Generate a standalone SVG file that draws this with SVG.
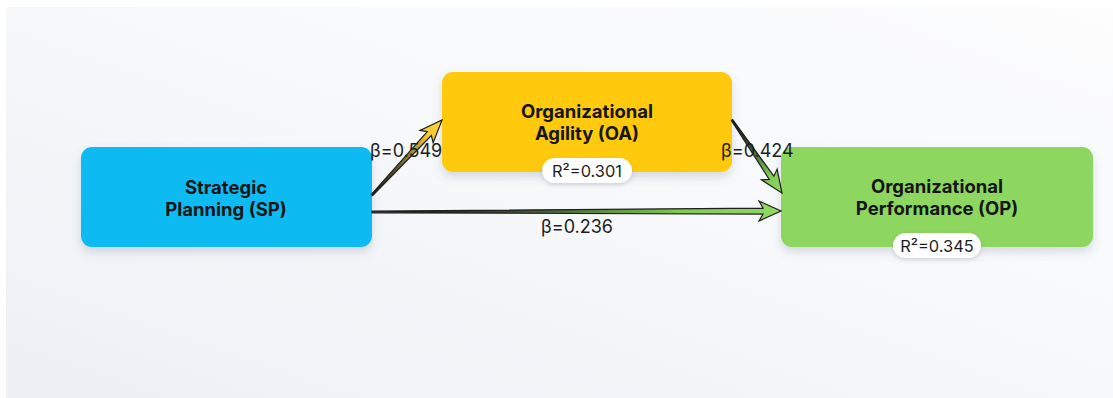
<svg xmlns="http://www.w3.org/2000/svg" width="1113" height="398" viewBox="0 0 1113 398">
  <defs>
    <linearGradient id="bg" x1="0" y1="1" x2="1" y2="0">
      <stop offset="0" stop-color="#ECF0F5"/>
      <stop offset="0.5" stop-color="#F6F8FA"/>
      <stop offset="1" stop-color="#FDFDFE"/>
    </linearGradient>
    <linearGradient id="gGreen" x1="0" y1="0" x2="1" y2="0">
      <stop offset="0" stop-color="#111111"/>
      <stop offset="0.35" stop-color="#3a4a33"/>
      <stop offset="0.75" stop-color="#7FC955"/>
      <stop offset="1" stop-color="#8FD962"/>
    </linearGradient>
    <linearGradient id="gYellow" x1="0" y1="0" x2="1" y2="0">
      <stop offset="0" stop-color="#111111"/>
      <stop offset="0.45" stop-color="#7a6a2a"/>
      <stop offset="0.8" stop-color="#F5C935"/>
      <stop offset="1" stop-color="#FFD23F"/>
    </linearGradient>
    <filter id="shadow" x="-10%" y="-20%" width="120%" height="150%">
      <feDropShadow dx="0" dy="5" stdDeviation="5" flood-color="#5a6a80" flood-opacity="0.22"/>
    </filter>
    <filter id="pshadow" x="-20%" y="-40%" width="140%" height="190%">
      <feDropShadow dx="0" dy="2" stdDeviation="2" flood-color="#5a6a80" flood-opacity="0.25"/>
    </filter>
    <style>
      .title { font-family: Inter, "Noto Sans", sans-serif; font-weight: 700; font-size: 18.5px; fill: #151515; text-anchor: middle; }
      .lbl { font-family: Inter, "Noto Sans", sans-serif; font-weight: 400; font-size: 18px; fill: #1e1e1e; }
      .r2 { font-family: Inter, "Noto Sans", sans-serif; font-weight: 400; font-size: 16.4px; fill: #1e1e1e; text-anchor: middle; }
      .pill { fill: #FFFFFF; filter: url(#pshadow); }
      .arrow { stroke: #1f1f1f; stroke-width: 1.2; stroke-linejoin: miter; }
    </style>
  </defs>

  <rect x="0" y="0" width="1113" height="398" fill="#FFFFFF"/>
  <rect x="6" y="7" width="1107" height="391" fill="url(#bg)"/>

  <g id="node-sp">
    <rect x="81" y="147" width="291" height="100" rx="11" fill="#0DBBF2" filter="url(#shadow)"/>
    <text class="title" x="226" y="194">Strategic</text>
    <text class="title" x="226" y="216">Planning (SP)</text>
  </g>

  <g id="node-oa">
    <rect x="442" y="72" width="290" height="100" rx="11" fill="#FFC907" filter="url(#shadow)"/>
    <text class="title" x="587" y="118">Organizational</text>
    <text class="title" x="587" y="140">Agility (OA)</text>
    <rect class="pill" x="542" y="158" width="90" height="25" rx="12.5"/>
    <text class="r2" x="587" y="176.5">R²=0.301</text>
  </g>

  <g id="node-op">
    <rect x="781" y="147" width="312" height="100" rx="11" fill="#8DD65E" filter="url(#shadow)"/>
    <text class="title" x="937" y="193">Organizational</text>
    <text class="title" x="937" y="215">Performance (OP)</text>
    <rect class="pill" x="893" y="233" width="88" height="25" rx="12.5"/>
    <text class="r2" x="937" y="251.5">R²=0.345</text>
  </g>

  <g id="connectors">
    <g id="sp-oa" transform="translate(372,195) rotate(-46.97)">
      <polygon class="arrow" fill="url(#gYellow)" points="0,-0.8 84,-2.8 80,-9 102.6,0 80,9 84,2.8 0,0.8"/>
    </g>
    <g id="oa-op" transform="translate(732,120) rotate(55.6)">
      <polygon class="arrow" fill="url(#gGreen)" points="0,-0.8 70,-2.8 66,-9.5 88.5,0 66,9.5 70,2.8 0,0.8"/>
    </g>
    <g id="sp-op" transform="translate(372,212) rotate(-0.14)">
      <polygon class="arrow" fill="url(#gGreen)" points="0,-0.8 391,-3 387,-10 409,0 387,10 391,3 0,0.8"/>
    </g>
    <text class="lbl" x="370" y="157">β=0.549</text>
    <text class="lbl" x="721" y="157">β=0.424</text>
    <text class="lbl" x="577" y="233" text-anchor="middle">β=0.236</text>
  </g>
</svg>
